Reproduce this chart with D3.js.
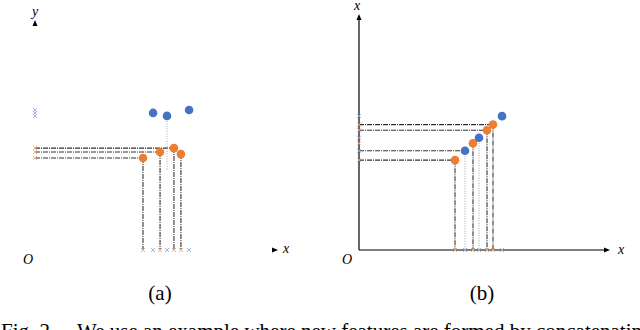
<!DOCTYPE html>
<html><head><meta charset="utf-8">
<script src="https://cdn.jsdelivr.net/npm/d3@7"></script>
<style>body{margin:0;background:#fff}svg{display:block}</style>
</head><body>
<svg id="c" width="640" height="330"></svg>
<script>
// Panel (a): feature x vs feature y
const aOrangeX = [4.5, 5.21, 5.79, 6.08];
const aOrangeY = [4.0, 4.26, 4.43, 4.17];
const aOrangeHLine = [true, true, true, false];
const aBlueX = [4.92, 5.5, 6.42];
const aBlueY = [5.96, 5.83, 6.09];
const aBlueVLine = [false, true, false];
// Panel (b): feature x vs itself
const bValues = [3.84, 4.24, 4.56, 4.8, 5.12, 5.36, 5.72];
const bGroup = ["o", "b", "o", "b", "o", "o", "b"];
const bHLine = [true, true, false, false, true, true, false];
const bVLine = [true, true, true, true, true, true, false];
const panelLabels = ["(a)", "(b)"];
const captionLead = "Fig. 2.";
const captionText = "We use an example where new features are formed by concatenating";

const SERIF = "'Liberation Serif', 'Times New Roman', 'DejaVu Serif', serif";
const svg = d3.select("#c");
const ORANGE = "#ED7D31", BLUE = "#4472C4";
const LORANGE = "#F4A878", LBLUE = "#8FAADC";
const dashDark = "5,1,1,1", dotGray = "1,1.5";

function cross(g, x, y, color) {
  const s = 2;
  g.append("path").attr("d", `M${x-s},${y-s}L${x+s},${y+s}M${x-s},${y+s}L${x+s},${y-s}`)
    .attr("stroke", color).attr("stroke-width", 0.9).attr("fill", "none");
}
function arrow(g, x, y, dir) {
  const p = dir === "up" ? `M${x},${y-4}L${x-2.5},${y+2}L${x+2.5},${y+2}Z`
                         : `M${x+4},${y}L${x-2},${y-2.5}L${x-2},${y+2.5}Z`;
  g.append("path").attr("d", p).attr("fill", "#000");
}
function italic(g, x, y, t, size) {
  g.append("text").attr("x", x).attr("y", y).text(t)
    .style("font-family", SERIF).attr("font-style", "italic")
    .attr("font-size", size || 14).attr("text-anchor", "middle");
}

// ---------- Panel (a)
{
  const g = svg.append("g");
  const x = d3.scaleLinear().domain([0, 10]).range([35, 275]);
  const y = d3.scaleLinear().domain([0, 10]).range([250, 20]);
  aOrangeX.forEach((v, i) => {
    if (aOrangeHLine[i]) g.append("line").attr("x1", x(0)).attr("x2", x(v)).attr("y1", y(aOrangeY[i])).attr("y2", y(aOrangeY[i]))
      .attr("stroke", "#333").attr("stroke-dasharray", dashDark).attr("stroke-width", 1.1);
    g.append("line").attr("x1", x(v)).attr("x2", x(v)).attr("y1", y(aOrangeY[i])).attr("y2", y(0))
      .attr("stroke", "#333").attr("stroke-dasharray", dashDark).attr("stroke-width", 1.1);
  });
  aBlueX.forEach((v, i) => {
    if (aBlueVLine[i]) g.append("line").attr("x1", x(v)).attr("x2", x(v)).attr("y1", y(aBlueY[i])).attr("y2", y(3.5))
      .attr("stroke", "#aaa").attr("stroke-dasharray", dotGray).attr("stroke-width", 1);
  });
  aOrangeX.forEach((v, i) => { cross(g, x(v), y(0), LORANGE); if (aOrangeHLine[i]) cross(g, x(0), y(aOrangeY[i]), LORANGE); });
  aBlueX.forEach((v, i) => { cross(g, x(v), y(0), LBLUE); cross(g, x(0), y(aBlueY[i]), LBLUE); });
  aOrangeX.forEach((v, i) => g.append("circle").attr("cx", x(v)).attr("cy", y(aOrangeY[i])).attr("r", 4.3).attr("fill", ORANGE));
  aBlueX.forEach((v, i) => g.append("circle").attr("cx", x(v)).attr("cy", y(aBlueY[i])).attr("r", 4.3).attr("fill", BLUE));
  arrow(g, x(0), 24, "up");
  arrow(g, 274, y(0), "right");
  italic(g, x(0), 16, "y");
  italic(g, 286, y(0) + 3, "x");
  italic(g, 28, 264, "O");
}

// ---------- Panel (b)
{
  const g = svg.append("g");
  const x = d3.scaleLinear().domain([0, 10]).range([359, 609]);
  const y = d3.scaleLinear().domain([0, 10]).range([250, 16]);
  g.append("line").attr("x1", x(0)).attr("x2", 606).attr("y1", y(0)).attr("y2", y(0)).attr("stroke", "#000").attr("stroke-width", 1.2);
  g.append("line").attr("x1", x(0)).attr("x2", x(0)).attr("y1", y(0)).attr("y2", 20).attr("stroke", "#000").attr("stroke-width", 1.2);
  arrow(g, x(0), 18, "up");
  arrow(g, 606, y(0), "right");
  bValues.forEach((v, i) => {
    const isO = bGroup[i] === "o";
    if (bHLine[i]) g.append("line").attr("x1", x(0)).attr("x2", x(v)).attr("y1", y(v)).attr("y2", y(v))
      .attr("stroke", "#333").attr("stroke-dasharray", dashDark).attr("stroke-width", 1.1);
    if (bVLine[i]) g.append("line").attr("x1", x(v)).attr("x2", x(v)).attr("y1", y(v)).attr("y2", y(0))
      .attr("stroke", isO ? "#333" : "#aaa").attr("stroke-dasharray", isO ? dashDark : dotGray).attr("stroke-width", 1.1);
  });
  bValues.forEach((v, i) => {
    const c = bGroup[i] === "o" ? LORANGE : LBLUE;
    cross(g, x(v), y(0), c); cross(g, x(0), y(v), c);
  });
  bValues.forEach((v, i) => g.append("circle").attr("cx", x(v)).attr("cy", y(v)).attr("r", 4.3)
    .attr("fill", bGroup[i] === "o" ? ORANGE : BLUE));
  italic(g, x(0) - 2, 10, "x");
  italic(g, 621, y(0) + 4, "x");
  italic(g, 347, 264, "O");
}

// labels
[160, 482].forEach((cx, i) => svg.append("text").attr("x", cx).attr("y", 300).attr("text-anchor", "middle")
  .style("font-family", SERIF).attr("font-size", 21).text(panelLabels[i]));
svg.append("text").attr("x", 1).attr("y", 338).style("font-family", SERIF).attr("font-size", 21).text(captionLead);
svg.append("text").attr("x", 77).attr("y", 338).style("font-family", SERIF).attr("font-size", 21).text(captionText);
</script>
</body></html>
